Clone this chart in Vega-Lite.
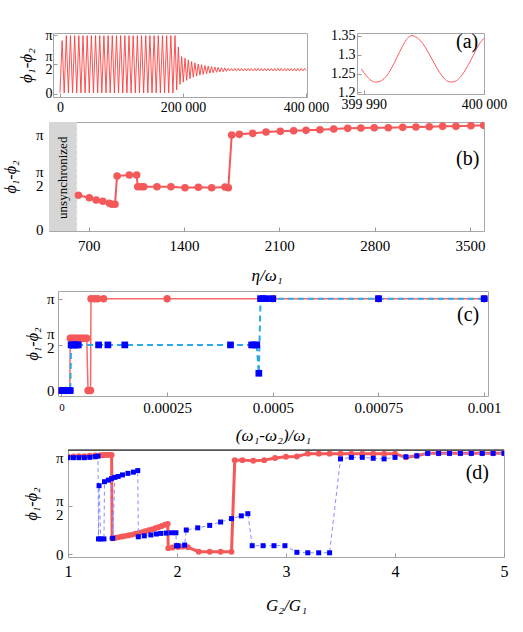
{
  "$schema": "https://vega.github.io/schema/vega-lite/v6.json",
  "background": "white",
  "padding": {"left": 0, "top": 27, "right": 5, "bottom": 5},
  "spacing": 0,
  "config": {
    "font": "Liberation Serif",
    "view": {"stroke": "#a6a6a6", "strokeWidth": 1},
    "axis": {
      "grid": false, "domain": false,
      "labelColor": "#000", "titleColor": "#000",
      "labelFont": "Liberation Serif", "titleFont": "Liberation Serif",
      "titleFontWeight": "normal", "titleFontStyle": "italic",
      "tickColor": "#9a9a9a", "tickSize": -4,
      "labelOverlap": false, "labelFlush": false
    },
    "text": {"font": "Liberation Serif"}
  },
  "datasets": {
    "phaseLong": [
      {"t":0,"d":0.05},{"t":3400,"d":2.84},{"t":6800,"d":0.04},{"t":10200,"d":3.11},{"t":13600,"d":0.04},{"t":17000,"d":3.11},
      {"t":20400,"d":0.04},{"t":23800,"d":3.11},{"t":27200,"d":0.04},{"t":30600,"d":3.11},{"t":34000,"d":0.04},{"t":37400,"d":3.11},
      {"t":40800,"d":0.04},{"t":44200,"d":3.11},{"t":47600,"d":0.04},{"t":51000,"d":3.11},{"t":54400,"d":0.04},{"t":57800,"d":3.11},
      {"t":61200,"d":0.04},{"t":64600,"d":3.11},{"t":68000,"d":0.04},{"t":71400,"d":3.11},{"t":74800,"d":0.04},{"t":78200,"d":3.11},
      {"t":81600,"d":0.04},{"t":85000,"d":3.11},{"t":88400,"d":0.04},{"t":91800,"d":3.11},{"t":95200,"d":0.04},{"t":98600,"d":3.11},
      {"t":102000,"d":0.04},{"t":105400,"d":3.11},{"t":108800,"d":0.04},{"t":112200,"d":3.11},{"t":115600,"d":0.04},{"t":119000,"d":3.11},
      {"t":122400,"d":0.04},{"t":125800,"d":3.11},{"t":129200,"d":0.04},{"t":132600,"d":3.11},{"t":136000,"d":0.04},{"t":139400,"d":3.11},
      {"t":142800,"d":0.04},{"t":146200,"d":3.11},{"t":149600,"d":0.04},{"t":153000,"d":3.11},{"t":156400,"d":0.04},{"t":159800,"d":3.11},
      {"t":163200,"d":0.04},{"t":166600,"d":3.11},{"t":170000,"d":0.04},{"t":173400,"d":3.11},{"t":176800,"d":0.04},{"t":180200,"d":3.11},
      {"t":183600,"d":0.04},{"t":187000,"d":3.11},
      {"t":189700,"d":0.2},{"t":192400,"d":2.5},{"t":195100,"d":0.5},{"t":197800,"d":1.99},{"t":200500,"d":0.62},{"t":203200,"d":1.9},
      {"t":205900,"d":0.71},{"t":208600,"d":1.81},{"t":211300,"d":0.8},{"t":214000,"d":1.72},{"t":216700,"d":0.88},{"t":219400,"d":1.65},
      {"t":222100,"d":0.94},{"t":224800,"d":1.59},{"t":227500,"d":0.99},{"t":230200,"d":1.55},{"t":232900,"d":1.03},{"t":235600,"d":1.51},
      {"t":238300,"d":1.06},{"t":241000,"d":1.48},{"t":243700,"d":1.1},{"t":246400,"d":1.45},{"t":249100,"d":1.12},{"t":251800,"d":1.425},
      {"t":254500,"d":1.145},{"t":257200,"d":1.405},{"t":259900,"d":1.165},{"t":262600,"d":1.39},{"t":265300,"d":1.175},{"t":268000,"d":1.38},
      {"t":270700,"d":1.19},
      {"t":273400,"d":1.35},{"t":276100,"d":1.22},{"t":278800,"d":1.35},{"t":281500,"d":1.22},{"t":284200,"d":1.35},{"t":286900,"d":1.22},
      {"t":289600,"d":1.35},{"t":292300,"d":1.22},{"t":295000,"d":1.35},{"t":297700,"d":1.22},{"t":300400,"d":1.35},{"t":303100,"d":1.22},
      {"t":305800,"d":1.35},{"t":308500,"d":1.22},{"t":311200,"d":1.35},{"t":313900,"d":1.22},{"t":316600,"d":1.35},{"t":319300,"d":1.22},
      {"t":322000,"d":1.35},{"t":324700,"d":1.22},{"t":327400,"d":1.35},{"t":330100,"d":1.22},{"t":332800,"d":1.35},{"t":335500,"d":1.22},
      {"t":338200,"d":1.35},{"t":340900,"d":1.22},{"t":343600,"d":1.35},{"t":346300,"d":1.22},{"t":349000,"d":1.35},{"t":351700,"d":1.22},
      {"t":354400,"d":1.35},{"t":357100,"d":1.22},{"t":359800,"d":1.35},{"t":362500,"d":1.22},{"t":365200,"d":1.35},{"t":367900,"d":1.22},
      {"t":370600,"d":1.35},{"t":373300,"d":1.22},{"t":376000,"d":1.35},{"t":378700,"d":1.22},{"t":381400,"d":1.35},{"t":384100,"d":1.22},
      {"t":386800,"d":1.35},{"t":389500,"d":1.22},{"t":392200,"d":1.35},{"t":394900,"d":1.22},{"t":397600,"d":1.35},{"t":400000,"d":1.24}
    ],
    "phaseZoom": [
      {"t":399989.8,"d":1.262},{"t":399990.2,"d":1.245},{"t":399990.6,"d":1.232},{"t":399991.0,"d":1.2275},{"t":399991.4,"d":1.23},
      {"t":399991.8,"d":1.24},{"t":399992.2,"d":1.258},{"t":399992.6,"d":1.282},{"t":399993.0,"d":1.308},{"t":399993.4,"d":1.332},
      {"t":399993.7,"d":1.345},{"t":399994.0,"d":1.35},{"t":399994.3,"d":1.347},{"t":399994.7,"d":1.337},{"t":399995.1,"d":1.32},
      {"t":399995.5,"d":1.298},{"t":399995.9,"d":1.275},{"t":399996.3,"d":1.253},{"t":399996.7,"d":1.237},{"t":399997.0,"d":1.229},
      {"t":399997.3,"d":1.2275},{"t":399997.7,"d":1.231},{"t":399998.1,"d":1.243},{"t":399998.5,"d":1.262},{"t":399998.9,"d":1.285},
      {"t":399999.3,"d":1.31},{"t":399999.7,"d":1.332},{"t":400000.0,"d":1.343}
    ],
    "eta": [
      {"eta":624,"v":1.121},{"eta":704,"v":1.042},{"eta":754,"v":0.966},{"eta":803,"v":0.923},{"eta":851,"v":0.857},
      {"eta":869,"v":0.824},{"eta":893,"v":0.824},{"eta":908,"v":1.757},{"eta":998,"v":1.79},{"eta":1052,"v":1.79},
      {"eta":1060,"v":1.405},{"eta":1084,"v":1.405},{"eta":1104,"v":1.405},{"eta":1201,"v":1.405},{"eta":1304,"v":1.405},
      {"eta":1407,"v":1.372},{"eta":1505,"v":1.385},{"eta":1603,"v":1.372},{"eta":1701,"v":1.395},{"eta":1725,"v":1.372},
      {"eta":1750,"v":3.109},{"eta":1806,"v":3.132},{"eta":1904,"v":3.165},{"eta":2002,"v":3.208},{"eta":2107,"v":3.231},
      {"eta":2205,"v":3.251},{"eta":2296,"v":3.264},{"eta":2398,"v":3.284},{"eta":2499,"v":3.307},{"eta":2602,"v":3.33},
      {"eta":2699,"v":3.34},{"eta":2797,"v":3.35},{"eta":2900,"v":3.35},{"eta":3006,"v":3.363},{"eta":3103,"v":3.373},
      {"eta":3201,"v":3.383},{"eta":3299,"v":3.396},{"eta":3397,"v":3.396},{"eta":3507,"v":3.416},{"eta":3600,"v":3.429}
    ],
    "detuneRed": [
      {"w":0,"v":0},{"w":0.00001,"v":0},{"w":0.00002,"v":0},{"w":0.000021,"v":1.79},{"w":0.000025,"v":1.79},
      {"w":0.00003,"v":1.79},{"w":0.000035,"v":1.79},{"w":0.00004,"v":1.79},{"w":0.000045,"v":1.79},{"w":0.00005,"v":1.79},
      {"w":0.000055,"v":1.79},{"w":0.00006,"v":1.79},{"w":0.000063,"v":0},{"w":0.000069,"v":0},{"w":0.00007,"v":3.1416},
      {"w":0.000078,"v":3.1416},{"w":0.000086,"v":3.1416},{"w":0.0001,"v":3.1416},{"w":0.00025,"v":3.1416},
      {"w":0.0005,"v":3.1416},{"w":0.00075,"v":3.1416},{"w":0.001,"v":3.1416}
    ],
    "detuneBlue": [
      {"w":0.000001,"v":0},{"w":0.000005,"v":0},{"w":0.00001,"v":0},{"w":0.000015,"v":0},{"w":0.000021,"v":0},
      {"w":0.000023,"v":1.56},{"w":0.000027,"v":1.56},{"w":0.000031,"v":1.56},{"w":0.000035,"v":1.56},{"w":0.00004,"v":1.56},
      {"w":0.000088,"v":1.56},{"w":0.00011,"v":1.56},{"w":0.00015,"v":1.56},{"w":0.0004,"v":1.56},{"w":0.00045,"v":1.56},
      {"w":0.000456,"v":1.56},{"w":0.000462,"v":1.56},{"w":0.000467,"v":0.59},{"w":0.000471,"v":3.1416},{"w":0.000477,"v":3.1416},
      {"w":0.000485,"v":3.1416},{"w":0.0005,"v":3.1416},{"w":0.00075,"v":3.1416},{"w":0.001,"v":3.1416}
    ],
    "gainRed": [
      {"g":1.0,"v":3.17},{"g":1.05,"v":3.17},{"g":1.1,"v":3.18},{"g":1.15,"v":3.18},{"g":1.2,"v":3.19},{"g":1.25,"v":3.2},
      {"g":1.3,"v":3.21},{"g":1.32,"v":3.21},{"g":1.34,"v":3.22},{"g":1.36,"v":3.22},{"g":1.38,"v":3.22},{"g":1.4,"v":3.22},
      {"g":1.405,"v":0.51},{"g":1.44,"v":0.53},{"g":1.47,"v":0.55},{"g":1.5,"v":0.57},{"g":1.53,"v":0.59},{"g":1.56,"v":0.61},
      {"g":1.59,"v":0.63},{"g":1.62,"v":0.66},{"g":1.65,"v":0.68},{"g":1.68,"v":0.71},{"g":1.71,"v":0.74},{"g":1.74,"v":0.77},
      {"g":1.77,"v":0.8},{"g":1.8,"v":0.84},{"g":1.83,"v":0.87},{"g":1.86,"v":0.91},{"g":1.89,"v":0.95},{"g":1.915,"v":0.98},
      {"g":1.92,"v":0.19},{"g":1.96,"v":0.21},{"g":2.01,"v":0.23},{"g":2.05,"v":0.24},{"g":2.1,"v":0.22},{"g":2.2,"v":0.075},
      {"g":2.3,"v":0.075},{"g":2.4,"v":0.075},{"g":2.5,"v":0.075},{"g":2.53,"v":3.05},{"g":2.6,"v":3.05},{"g":2.7,"v":3.03},
      {"g":2.8,"v":3.05},{"g":2.9,"v":3.12},{"g":3.0,"v":3.16},{"g":3.1,"v":3.17},{"g":3.2,"v":3.26},{"g":3.3,"v":3.26},
      {"g":3.4,"v":3.26},{"g":3.5,"v":3.26},{"g":3.6,"v":3.26},{"g":3.7,"v":3.26},{"g":3.8,"v":3.26},{"g":3.9,"v":3.26},
      {"g":4.0,"v":3.26},{"g":4.1,"v":3.14},{"g":4.2,"v":3.19},{"g":4.3,"v":3.27},{"g":4.4,"v":3.27},{"g":4.5,"v":3.27},
      {"g":4.6,"v":3.27},{"g":4.7,"v":3.27},{"g":4.8,"v":3.27},{"g":4.9,"v":3.27},{"g":5.0,"v":3.27}
    ],
    "gainBlue": [
      {"g":1.0,"v":3.13},{"g":1.05,"v":3.13},{"g":1.1,"v":3.13},{"g":1.15,"v":3.13},{"g":1.2,"v":3.14},{"g":1.25,"v":3.16},
      {"g":1.275,"v":3.18},{"g":1.28,"v":0.49},{"g":1.285,"v":2.22},{"g":1.3,"v":0.49},{"g":1.33,"v":0.49},{"g":1.335,"v":2.35},
      {"g":1.37,"v":2.4},{"g":1.4,"v":2.45},{"g":1.41,"v":0.51},{"g":1.43,"v":2.49},{"g":1.46,"v":2.52},{"g":1.5,"v":2.57},
      {"g":1.55,"v":2.62},{"g":1.6,"v":2.66},{"g":1.64,"v":2.71},{"g":1.645,"v":0.56},{"g":1.7,"v":0.59},{"g":1.76,"v":0.62},
      {"g":1.81,"v":0.65},{"g":1.85,"v":0.67},{"g":1.9,"v":0.68},{"g":1.95,"v":0.69},{"g":1.99,"v":0.69},{"g":1.995,"v":0.27},
      {"g":2.01,"v":0.27},{"g":2.07,"v":0.29},{"g":2.085,"v":0.78},{"g":2.19,"v":0.85},{"g":2.3,"v":0.93},{"g":2.4,"v":1.04},
      {"g":2.5,"v":1.15},{"g":2.59,"v":1.24},{"g":2.65,"v":1.31},{"g":2.69,"v":0.27},{"g":2.79,"v":0.27},{"g":2.89,"v":0.27},
      {"g":2.99,"v":0.27},{"g":3.1,"v":0.055},{"g":3.2,"v":0.04},{"g":3.3,"v":0.04},{"g":3.4,"v":0.04},{"g":3.5,"v":3.09},
      {"g":3.6,"v":3.14},{"g":3.7,"v":3.14},{"g":3.8,"v":3.11},{"g":3.9,"v":3.09},{"g":4.0,"v":3.14},{"g":4.1,"v":3.16},
      {"g":4.2,"v":3.19},{"g":4.3,"v":3.27},{"g":4.4,"v":3.27},{"g":4.5,"v":3.27},{"g":4.6,"v":3.27},{"g":4.7,"v":3.27},
      {"g":4.8,"v":3.27},{"g":4.9,"v":3.27},{"g":5.0,"v":3.27}
    ]
  },
  "vconcat": [
    {
      "spacing": 0,
      "hconcat": [
        {"width": 16, "height": 88, "data": {"values": []}, "mark": "point", "view": {"stroke": null}},
        {
          "width": 254, "height": 64,
          "data": {"name": "phaseLong"},
          "mark": {"type": "line", "color": "#ff3d3d", "strokeWidth": 0.9, "clip": true},
          "encoding": {
            "x": {"field": "t", "type": "quantitative",
              "scale": {"domain": [-11400, 401600], "nice": false, "zero": false},
              "axis": {"title": null, "values": [0, 200000, 400000],
                "labelExpr": "datum.value == 0 ? '0' : datum.value < 300000 ? '200 000' : '400 000'",
                "labelFontSize": 14, "labelPadding": 14, "labelBaseline": "middle"}},
            "y": {"field": "d", "type": "quantitative",
              "scale": {"domain": [-0.18, 3.25], "nice": false, "zero": false},
              "axis": {"title": "ϕ₁-ϕ₂", "titleFontSize": 17, "values": [0, 1.5708, 3.1416],
                "labelExpr": "datum.value < 0.5 ? '0' : datum.value < 2 ? ['π', '2'] : 'π'",
                "labelOffset": {"condition": {"test": "datum.value > 1 && datum.value < 2", "value": -8}, "value": 0},
                "labelFontSize": 14, "labelLineHeight": 13, "labelPadding": 5,
                "minExtent": 10, "maxExtent": 10, "titlePadding": 8}}
          }
        },
        {
          "width": 127, "height": 61,
          "encoding": {
            "x": {"field": "t", "type": "quantitative",
              "scale": {"domain": [399989.44, 400000], "nice": false, "zero": false},
              "axis": {"title": null, "values": [399990, 400000],
                "labelExpr": "datum.value < 399995 ? '399 990' : '400 000'",
                "labelFontSize": 14, "labelPadding": 14.7, "labelBaseline": "middle"}},
            "y": {"field": "d", "type": "quantitative",
              "scale": {"domain": [1.196, 1.3568], "nice": false, "zero": false},
              "axis": {"title": null, "values": [1.2, 1.25, 1.3, 1.35], "format": ".3~f",
                "labelFontSize": 14, "labelPadding": 6}}
          },
          "layer": [
            {"data": {"name": "phaseZoom"},
             "mark": {"type": "line", "color": "#ff5c5c", "strokeWidth": 1, "interpolate": "monotone"}},
            {"data": {"values": [{"t": 399998.6, "d": 1.3325, "tag": "(a)"}]},
             "mark": {"type": "text", "fontSize": 20},
             "encoding": {"text": {"field": "tag"}}}
          ]
        }
      ]
    },
    {
      "spacing": 0,
      "hconcat": [
        {"width": 1, "height": 168, "data": {"values": []}, "mark": "point", "view": {"stroke": null}},
        {
          "width": 435, "height": 109,
          "encoding": {
            "x": {"field": "eta", "type": "quantitative",
              "scale": {"domain": [408, 3603], "nice": false, "zero": false},
              "axis": {"title": "η/ω₁", "titleFontSize": 17, "values": [700, 1400, 2100, 2800, 3500], "format": "d",
                "labelFontSize": 15, "labelPadding": 18.5, "labelBaseline": "middle", "titlePadding": 14}},
            "y": {"field": "v", "type": "quantitative",
              "scale": {"domain": [-0.056, 3.54], "nice": false, "zero": false},
              "axis": {"title": "ϕ₁-ϕ₂", "titleFontSize": 16, "values": [0, 1.5708, 3.1416],
                "labelExpr": "datum.value < 0.5 ? '0' : datum.value < 2 ? ['π', '2'] : 'π'",
                "labelOffset": {"condition": {"test": "datum.value > 1 && datum.value < 2", "value": -10}, "value": 0},
                "labelFontSize": 15, "labelLineHeight": 13.5, "labelPadding": 10,
                "minExtent": 14, "maxExtent": 14, "titlePadding": 17}}
          },
          "layer": [
            {"data": {"values": [{"eta": 380, "eta2": 614, "v": -0.2, "v2": 3.7}]},
             "mark": {"type": "rect", "color": "#d6d6d6", "clip": true},
             "encoding": {"x2": {"field": "eta2"}, "y2": {"field": "v2"}}},
            {"data": {"values": [{"eta": 614, "v": -0.2, "v2": 3.7}]},
             "mark": {"type": "rule", "color": "#f4f4f4", "strokeWidth": 1.5, "strokeDash": [3, 3], "clip": true},
             "encoding": {"y2": {"field": "v2"}}},
            {"data": {"values": [{"eta": 509, "v": 1.7, "tag": "unsynchronized"}]},
             "mark": {"type": "text", "angle": 270, "fontSize": 13},
             "encoding": {"text": {"field": "tag"}}},
            {"data": {"name": "eta"},
             "mark": {"type": "line", "color": "#f45858", "strokeWidth": 2, "clip": true}},
            {"data": {"name": "eta"},
             "mark": {"type": "point", "filled": true, "color": "#f45858", "size": 57, "opacity": 1, "clip": true}},
            {"data": {"values": [{"eta": 3483, "v": 2.31, "tag": "(b)"}]},
             "mark": {"type": "text", "fontSize": 20},
             "encoding": {"text": {"field": "tag"}}}
          ]
        }
      ]
    },
    {
      "spacing": 0,
      "hconcat": [
        {"width": 23, "height": 158, "data": {"values": []}, "mark": "point", "view": {"stroke": null}},
        {
          "width": 430, "height": 105,
          "encoding": {
            "x": {"field": "w", "type": "quantitative",
              "scale": {"domain": [-0.000008, 0.001009], "nice": false, "zero": false},
              "axis": {"title": "(ω₁-ω₂)/ω₁", "titleFontSize": 17, "values": [0, 0.00025, 0.0005, 0.00075, 0.001],
                "labelExpr": "datum.value == 0 ? '0' : format(datum.value, '~g')",
                "labelFontSize": {"condition": {"test": "datum.value == 0", "value": 11}, "value": 15},
                "labelPadding": 15, "labelBaseline": "middle", "titlePadding": 12.5}},
            "y": {"field": "v", "type": "quantitative",
              "scale": {"domain": [-0.187, 3.404], "nice": false, "zero": false},
              "axis": {"title": "ϕ₁-ϕ₂", "titleFontSize": 16, "values": [0, 1.5708, 3.1416],
                "labelExpr": "datum.value < 0.5 ? '0' : datum.value < 2 ? ['π', '2'] : 'π'",
                "labelOffset": {"condition": {"test": "datum.value > 1 && datum.value < 2", "value": -11}, "value": 0},
                "labelFontSize": 15, "labelLineHeight": 13.5, "labelPadding": 8,
                "minExtent": 12, "maxExtent": 12, "titlePadding": 6}}
          },
          "layer": [
            {"data": {"name": "detuneRed"},
             "mark": {"type": "line", "color": "#f76a6a", "strokeWidth": 1.5, "clip": true}},
            {"data": {"name": "detuneRed"},
             "mark": {"type": "point", "filled": true, "color": "#f45858", "size": 55, "opacity": 1, "clip": true}},
            {"data": {"name": "detuneBlue"},
             "mark": {"type": "line", "color": "#2aa8ea", "strokeWidth": 2, "strokeDash": [6, 4], "clip": true}},
            {"data": {"name": "detuneBlue"},
             "mark": {"type": "point", "shape": "square", "filled": true, "color": "#0000ff", "size": 45, "opacity": 1, "clip": true}},
            {"data": {"values": [{"w": 0.000962, "v": 2.58, "tag": "(c)"}]},
             "mark": {"type": "text", "fontSize": 20},
             "encoding": {"text": {"field": "tag"}}}
          ]
        }
      ]
    },
    {
      "spacing": 0,
      "hconcat": [
        {"width": 22, "height": 10, "data": {"values": []}, "mark": "point", "view": {"stroke": null}},
        {
          "width": 436, "height": 107,
          "encoding": {
            "x": {"field": "g", "type": "quantitative",
              "scale": {"domain": [1, 5], "nice": false, "zero": false},
              "axis": {"title": "G₂/G₁", "titleFontSize": 17, "values": [1, 2, 3, 4, 5],
                "labelFontSize": 16, "labelPadding": 18, "labelBaseline": "middle", "titlePadding": 18.6}},
            "y": {"field": "v", "type": "quantitative",
              "scale": {"domain": [-0.097, 3.379], "nice": false, "zero": false},
              "axis": {"title": "ϕ₁-ϕ₂", "titleFontSize": 16, "values": [0, 1.5708, 3.1416],
                "labelExpr": "datum.value < 0.5 ? '0' : datum.value < 2 ? ['π', '2'] : 'π'",
                "labelOffset": {"condition": {"test": "datum.value > 1 && datum.value < 2", "value": -5}, "value": 0},
                "labelFontSize": 15, "labelLineHeight": 14, "labelPadding": 9,
                "minExtent": 14, "maxExtent": 14, "titlePadding": 15}}
          },
          "layer": [
            {"data": {"values": [{"g": 1, "g2": 5, "v": 3.379}]},
             "mark": {"type": "rule", "color": "#000000", "strokeWidth": 1},
             "encoding": {"x2": {"field": "g2"}}},
            {"data": {"name": "gainRed"},
             "mark": {"type": "line", "color": "#f45858", "strokeWidth": 3, "clip": true}},
            {"data": {"name": "gainRed"},
             "mark": {"type": "point", "filled": true, "color": "#f45858", "size": 35, "opacity": 1, "clip": true}},
            {"data": {"name": "gainBlue"},
             "mark": {"type": "line", "color": "#8c8cff", "strokeWidth": 1, "strokeDash": [4, 3], "clip": true}},
            {"data": {"name": "gainBlue"},
             "mark": {"type": "point", "shape": "square", "filled": true, "color": "#0000ff", "size": 25, "opacity": 1, "clip": true}},
            {"data": {"values": [{"g": 4.755, "v": 2.64, "tag": "(d)"}]},
             "mark": {"type": "text", "fontSize": 20},
             "encoding": {"text": {"field": "tag"}}}
          ]
        }
      ]
    }
  ]
}
